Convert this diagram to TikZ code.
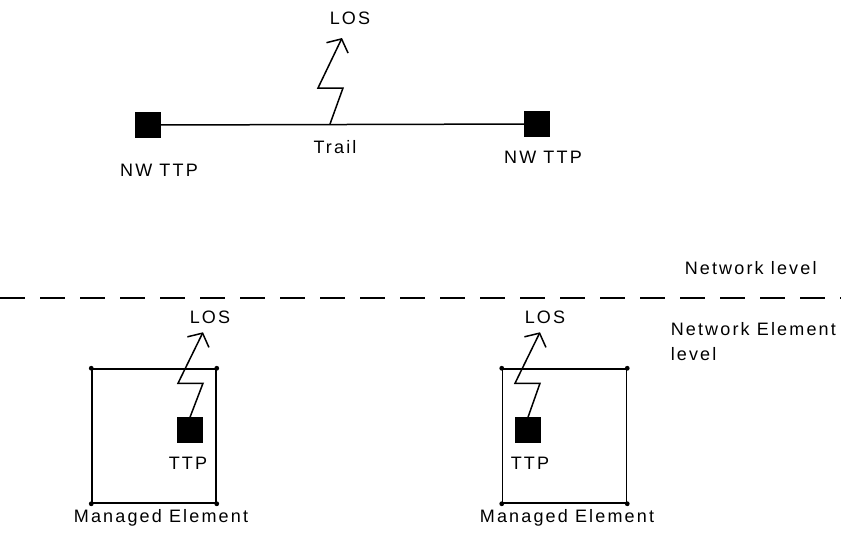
\documentclass[tikz,border=0pt]{standalone}
\usepackage{fontspec}
\setmainfont{Liberation Sans}[LetterSpace=12]
\usetikzlibrary{arrows.meta}

\begin{document}
\begin{tikzpicture}[x=0.5pt,y=-0.5pt,line width=0.75pt,
    every node/.style={font=\fontsize{9}{12.5}\selectfont,inner sep=1pt},
    ttp/.style={draw,fill=black,minimum size=12pt,inner sep=0pt},
    los/.style={-{Straight Barb[length=5pt,width=12pt]}},
    me/.style={draw,minimum width=62pt,minimum height=67pt,inner sep=0pt}]
  \useasboundingbox (0,0) rectangle (841,538);
  % network level
  \node[ttp] (nwl) at (148,125) {};
  \node[ttp] (nwr) at (537,124) {};
  \draw (nwl) -- (nwr);
  \coordinate (tr) at (330,124);
  \draw[los] (tr) -- ++(13,-36) -- ++(-25,0) -- ++(24,-50) coordinate (losT);
  \node (losTl) at (350,18) {LOS};
  \node (trail) at (335,147) {Trail};
  \node (nwlab) at (159,170) {NW TTP};
  \node (nwrab) at (543,157) {NW TTP};
  % level separator
  \coordinate (dl) at (0,298);
  \coordinate (dr) at (841,298);
  \draw[dash pattern=on 12.5pt off 7.5pt] (dl) -- (dr);
  \node[anchor=west] (netlvl) at (682,268) {Network level};
  \node[anchor=north west,align=left] (nelvl) at (668,320) {Network Element\\level};
  % network element level
  \node[me] (meA) at (154,436) {};
  \node[me] (meB) at (564.5,436) {};
  \foreach \m in {meA,meB}
    \foreach \c in {north west,north east,south west,south east}
      \fill (\m.\c) circle (1.2pt);
  \node[ttp] (ttpA) at (190,430) {};
  \node[ttp] (ttpB) at (528,430) {};
  \draw[los] (ttpA.north) -- ++(13,-34) -- ++(-25,0) -- ++(25,-51);
  \draw[los] (ttpB.north) -- ++(12,-34) -- ++(-25,0) -- ++(25,-51);
  \node (losA) at (210,317) {LOS};
  \node (losB) at (545,317) {LOS};
  \node (ttpAl) at (188,463) {TTP};
  \node (ttpBl) at (530,463) {TTP};
  \node (meAl) at (161,518) {Managed Element};
  \node (meBl) at (567,518) {Managed Element};
\end{tikzpicture}
\end{document}
